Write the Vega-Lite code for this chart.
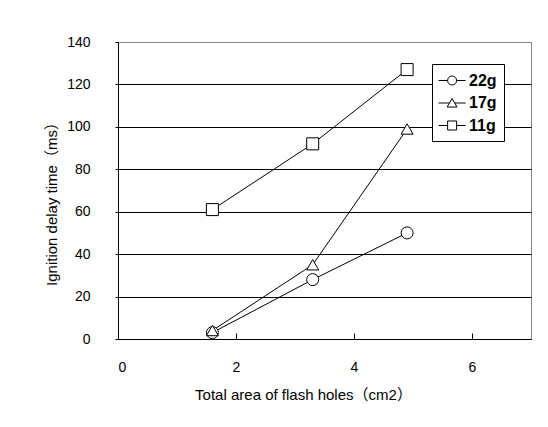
{
  "$schema": "https://vega.github.io/schema/vega-lite/v6.json",
  "width": 413,
  "height": 297,
  "autosize": {"type": "none"},
  "padding": {"left": 118, "top": 42, "right": 17, "bottom": 88},
  "background": "white",
  "config": {
    "view": {"stroke": "#888888", "strokeWidth": 1},
    "axis": {
      "labelFont": "Liberation Sans",
      "labelFontSize": 14,
      "labelColor": "black",
      "titleFont": "Liberation Sans, Noto Sans CJK JP",
      "titleFontSize": 15,
      "titleFontWeight": "normal",
      "titleColor": "black",
      "domainColor": "black",
      "tickColor": "black"
    }
  },
  "data": {
    "values": [
      {"area": 1.6, "delay": 3, "mass": "22g"},
      {"area": 3.3, "delay": 28, "mass": "22g"},
      {"area": 4.9, "delay": 50, "mass": "22g"},
      {"area": 1.6, "delay": 4, "mass": "17g"},
      {"area": 3.3, "delay": 35, "mass": "17g"},
      {"area": 4.9, "delay": 99, "mass": "17g"},
      {"area": 1.6, "delay": 61, "mass": "11g"},
      {"area": 3.3, "delay": 92, "mass": "11g"},
      {"area": 4.9, "delay": 127, "mass": "11g"}
    ]
  },
  "encoding": {
    "x": {
      "field": "area",
      "type": "quantitative",
      "scale": {"domain": [0, 7], "nice": false},
      "axis": {
        "title": "Total area of flash holes（cm2）",
        "values": [0, 2, 4, 6],
        "grid": false,
        "tickSize": -6,
        "labelPadding": 27,
        "titleX": 185,
        "titleY": 60,
        "titleBaseline": "alphabetic"
      }
    },
    "y": {
      "field": "delay",
      "type": "quantitative",
      "scale": {"domain": [0, 140], "nice": false},
      "axis": {
        "title": "Ignition delay time（ms）",
        "values": [0, 20, 40, 60, 80, 100, 120, 140],
        "grid": true,
        "gridColor": {"condition": {"test": "datum.value === 140", "value": "#888888"}, "value": "black"},
        "gridOpacity": 1,
        "tickSize": 3,
        "labelPadding": 25,
        "titleX": -62,
        "titleY": 158,
        "titleAlign": "center",
        "titleBaseline": "alphabetic"
      }
    }
  },
  "layer": [
    {
      "mark": {"type": "line", "color": "black", "strokeWidth": 1},
      "encoding": {"detail": {"field": "mass"}}
    },
    {
      "mark": {"type": "point", "filled": false, "fill": "white", "fillOpacity": 1, "stroke": "black", "strokeWidth": 1, "size": 144, "opacity": 1},
      "encoding": {
        "shape": {
          "field": "mass",
          "type": "nominal",
          "scale": {"domain": ["22g", "17g", "11g"], "range": ["circle", "triangle-up", "square"]},
          "legend": null
        }
      }
    },
    {
      "transform": [{"filter": "false"}],
      "mark": {"type": "point", "filled": false, "fill": "white", "fillOpacity": 1, "stroke": "black", "strokeWidth": 1, "opacity": 1},
      "encoding": {
        "shape": {
          "field": "mass",
          "type": "nominal",
          "scale": {
            "domain": ["22g", "17g", "11g"],
            "range": [
              "M-1.1,0H-0.1M0.9,0H1.9M-0.1,0a0.5,0.5 0 1,0 1,0a0.5,0.5 0 1,0 -1,0Z",
              "M-1.1,0H0.1M0.7,0H1.9M0.4,-0.5L0.95,0.45L-0.15,0.45Z",
              "M-1.1,0H-0.1M0.9,0H1.9M-0.1,-0.5H0.9V0.5H-0.1Z"
            ]
          },
          "legend": {
            "title": null,
            "orient": "none",
            "legendX": 314,
            "legendY": 22,
            "strokeColor": "black",
            "fillColor": "white",
            "padding": 7,
            "symbolSize": 324,
            "symbolStrokeWidth": 1,
            "labelFont": "Liberation Sans",
            "labelFontSize": 16,
            "labelFontWeight": "bold",
            "labelColor": "black",
            "labelOffset": 11,
            "rowPadding": 4.5
          }
        }
      }
    }
  ],
  "resolve": {"scale": {"shape": "independent"}, "legend": {"shape": "independent"}}
}
